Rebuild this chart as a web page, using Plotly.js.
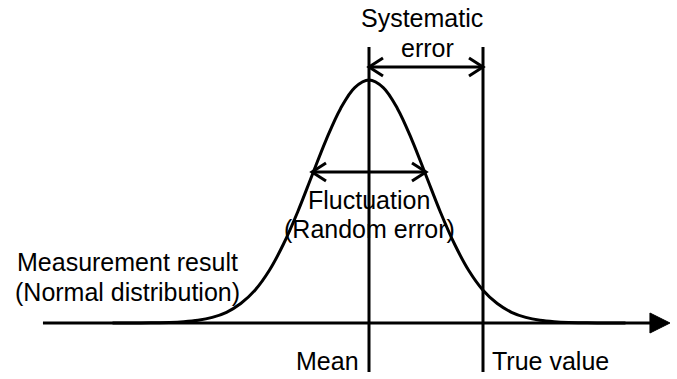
<!DOCTYPE html>
<html>
<head>
<meta charset="utf-8">
<script src="https://cdn.plot.ly/plotly-3.0.1.min.js"></script>
<style>
html,body{margin:0;padding:0;background:#fff;}
#chart{width:677px;height:379px;}
</style>
</head>
<body>
<div id="chart"></div>
<script>
// Curve: x in units of the spread (sigma), y relative to the peak height
var curveX = [-4.5,-4,-3.75,-3.5,-3.25,-3,-2.75,-2.5,-2.25,-2,-1.75,-1.5,-1.25,-1,-0.75,-0.5,-0.25,0,0.25,0.5,0.75,1,1.25,1.5,1.75,2,2.25,2.5,2.75,3,3.25,3.5,3.75,4,4.5];
var curveY = [0,0,0.001,0.002,0.005,0.011,0.023,0.044,0.080,0.135,0.216,0.325,0.458,0.607,0.755,0.882,0.969,1,0.969,0.882,0.755,0.607,0.458,0.325,0.216,0.135,0.080,0.044,0.023,0.011,0.005,0.002,0.001,0,0];

// Key positions on the horizontal scale
var meanValue = 0;
var trueValue = 2;
var spread = 1;           // half-width of the fluctuation arrow
var axisStart = -5.72;
var axisEnd = 5.28;

// Labels (one entry per text line)
var labelSystematic = ["Systematic", "error"];
var labelFluct = ["Fluctuation", "(Random error)"];
var labelMeasure = ["Measurement result", "(Normal distribution)"];
var labelMean = "Mean";
var labelTrue = "True value";

// Scale (pixels per unit) used only for arrowhead sizes
var W = 677, H = 379;
var x0px = 369, sx = 57;   // pixel of x=0, px per unit
var y0px = 323, sy = 243;  // pixel of y=0, px per unit
var xr = [-x0px / sx, (W - x0px) / sx];
var yr = [-(H - y0px) / sy, y0px / sy];
function dx(p){ return p / sx; }
function dy(p){ return p / sy; }
function PX(p){ return p / W; }
function PY(p){ return 1 - p / H; }

var black = "#000000";
var lw = 3;

var vTop = (y0px - 47) / sy;
var vBot = -(372 - y0px) / sy;
var sysY = (y0px - 67) / sy;
var flY = (y0px - 172) / sy;

function chevron(xTip, y, dir){
  return {type:"path", xref:"x", yref:"y",
    path:"M" + (xTip + dir*dx(14)) + "," + (y + dy(9)) + " L" + xTip + "," + y + " L" + (xTip + dir*dx(14)) + "," + (y - dy(9)),
    line:{color:black, width:lw}};
}

var shapes = [
  {type:"line", xref:"x", yref:"y", x0:axisStart, x1:axisEnd - dx(18), y0:0, y1:0, line:{color:black, width:lw}},
  {type:"path", xref:"x", yref:"y",
    path:"M" + (axisEnd - dx(20)) + "," + dy(10) + " L" + axisEnd + ",0 L" + (axisEnd - dx(20)) + "," + (-dy(10)) + " Z",
    fillcolor:black, line:{color:black, width:1}},
  {type:"line", xref:"x", yref:"y", x0:meanValue, x1:meanValue, y0:vBot, y1:vTop, line:{color:black, width:lw}},
  {type:"line", xref:"x", yref:"y", x0:trueValue, x1:trueValue, y0:vBot, y1:vTop, line:{color:black, width:lw}},
  {type:"line", xref:"x", yref:"y", x0:meanValue, x1:trueValue, y0:sysY, y1:sysY, line:{color:black, width:lw}},
  chevron(meanValue, sysY, 1),
  chevron(trueValue, sysY, -1),
  {type:"line", xref:"x", yref:"y", x0:meanValue - spread, x1:meanValue + spread, y0:flY, y1:flY, line:{color:black, width:lw}},
  chevron(meanValue - spread, flY, 1),
  chevron(meanValue + spread, flY, -1)
];

var font = {family:"'Liberation Sans', Arial, sans-serif", size:25, color:black};

function ann(text, xp, yp, xanchor){
  return {xref:"paper", yref:"paper", x:PX(xp), y:PY(yp), text:text, showarrow:false, font:font,
    xanchor:xanchor, yanchor:"middle", align:xanchor === "center" ? "center" : xanchor};
}

var annotations = [
  ann(labelSystematic[0], 422, 18, "center"),
  ann(labelSystematic[1], 427, 48, "center"),
  ann(labelFluct[0], 369, 200, "center"),
  ann(labelFluct[1], 369, 229, "center"),
  ann(labelMeasure[0], 15, 262, "left"),
  ann(labelMeasure[1], 13, 292, "left"),
  ann(labelMean, 361, 361, "right"),
  ann(labelTrue, 490, 361, "left")
];

var trace = {
  x: curveX, y: curveY, type:"scatter", mode:"lines",
  line:{color:black, width:lw, shape:"spline", smoothing:1},
  hoverinfo:"skip"
};

var layout = {
  width:W, height:H,
  margin:{l:0, r:0, t:0, b:0, pad:0},
  paper_bgcolor:"#ffffff", plot_bgcolor:"#ffffff",
  showlegend:false,
  xaxis:{range:xr, visible:false, fixedrange:true},
  yaxis:{range:yr, visible:false, fixedrange:true},
  shapes:shapes,
  annotations:annotations
};

Plotly.newPlot("chart", [trace], layout, {staticPlot:true, displayModeBar:false});
</script>
</body>
</html>
